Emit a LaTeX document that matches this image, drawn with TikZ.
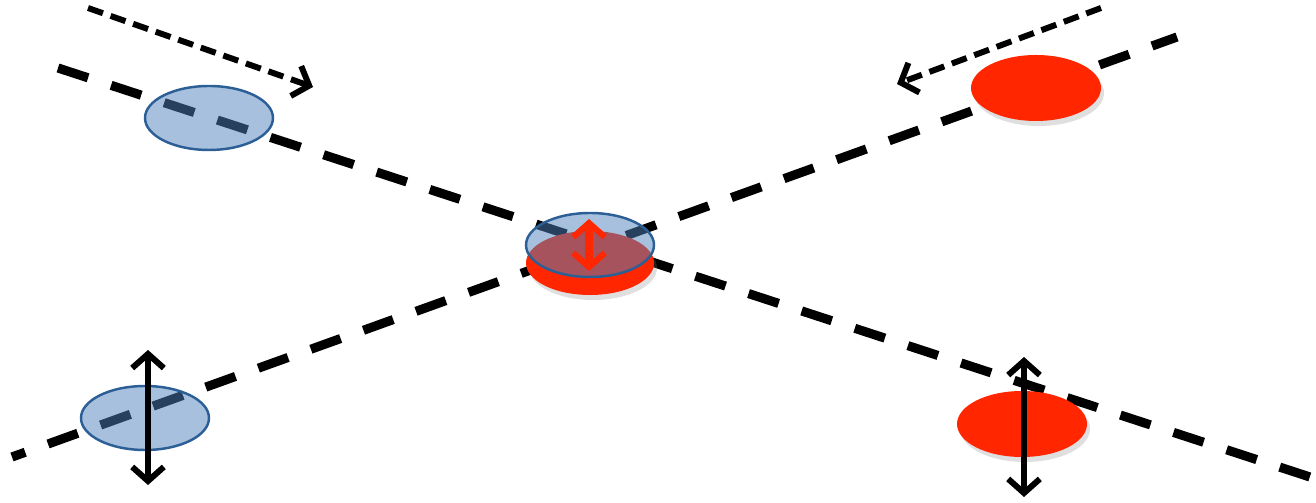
\documentclass[tikz,border=0pt]{standalone}
\usetikzlibrary{shapes.geometric,arrows.meta,shadows}

\definecolor{discblue}{RGB}{79,129,189}
\definecolor{discedge}{RGB}{44,95,150}
\definecolor{discred}{RGB}{255,38,0}

\tikzset{
  axisline/.style={line width=2.6pt, dash pattern=on 9pt off 6.9pt},
  motion/.style={line width=1.7pt, dash pattern=on 4.5pt off 2.3pt, -{Straight Barb[length=4pt,width=9pt,line width=1.7pt]}},
  bluedisc/.style={ellipse, minimum width=12.8mm, minimum height=6.4mm, inner sep=0pt,
    fill=discblue, fill opacity=0.5, draw=discedge, draw opacity=1, line width=0.7pt},
  reddisc/.style={ellipse, minimum width=13mm, minimum height=6.6mm, inner sep=0pt,
    fill=discred, drop shadow={opacity=0.25, shadow xshift=0.3mm, shadow yshift=-0.5mm}},
  spin/.style={line width=1.7pt, {Straight Barb[length=4pt,width=9pt,line width=1.7pt]}-{Straight Barb[length=4pt,width=9pt,line width=1.7pt]}}
}

\begin{document}
\begin{tikzpicture}[x=0.1mm, y=-0.1mm]
\useasboundingbox (0,0) rectangle (1316,503);

% the two crossing axes
\coordinate (a1) at (58,68);
\coordinate (a2) at (1313,478);
\coordinate (b1) at (12,457);
\coordinate (b2) at (1177,37);
\draw[axisline] (a1) -- (a2);
\draw[axisline, dash phase=5pt] (b1) -- (b2);

% incoming motion
\coordinate (m1) at (88,8);
\coordinate (m2) at (313,87);
\coordinate (n1) at (1101,8);
\coordinate (n2) at (897,84);
\draw[motion] (m1) -- (m2);
\draw[motion] (n1) -- (n2);

% discs
\node[bluedisc] (tl) at (209,118) {};
\node[reddisc] (tr) at (1036,88) {};
\node[bluedisc] (bl) at (145,418) {};
\node[reddisc] (br) at (1022,424) {};
\node[reddisc, minimum width=12.8mm, minimum height=6.4mm] (cr) at (590,263) {};
\node[bluedisc] (cb) at (590,245) {};

% spin arrows
\coordinate (bl1) at (148,350);
\coordinate (bl2) at (148,485);
\coordinate (br1) at (1024,357);
\coordinate (br2) at (1024,497);
\draw[spin] (bl1) -- (bl2);
\draw[spin] (br1) -- (br2);
\coordinate (c1) at (589,219);
\coordinate (c2) at (589,271);
\draw[spin, discred, line width=2pt] (c1) -- (c2);
\end{tikzpicture}
\end{document}
